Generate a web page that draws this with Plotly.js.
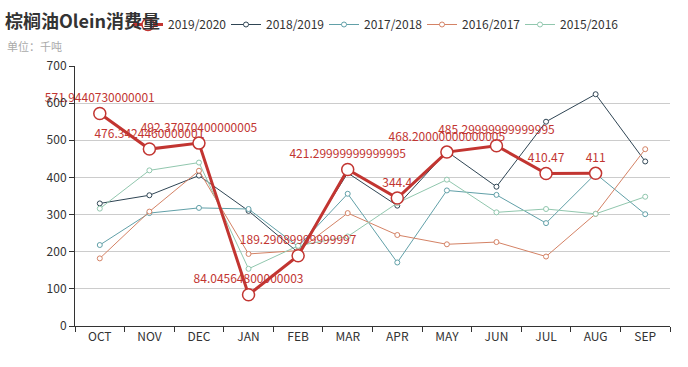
<!DOCTYPE html>
<html>
<head>
<meta charset="utf-8">
<script src="https://cdn.plot.ly/plotly-3.0.1.min.js"></script>
<style>html,body{margin:0;padding:0;background:#fff;}#chart{width:688px;height:367px;}</style>
</head>
<body>
<div id="chart"></div>
<script>
const months = ['OCT','NOV','DEC','JAN','FEB','MAR','APR','MAY','JUN','JUL','AUG','SEP'];
const seriesNames = ['2019/2020','2018/2019','2017/2018','2016/2017','2015/2016'];
const s2019 = [571.9440730000001, 476.3424460000001, 492.37070400000005, 84.04564800000003, 189.29089999999997, 421.29999999999995, 344.4, 468.20000000000005, 485.29999999999995, 410.47, 411, null];
const s2018 = [330, 352, 405, 310, 198, 412, 324, 470, 375, 550, 624, 443];
const s2017 = [218, 304, 318, 315, 214, 356, 171, 365, 353, 277, 410, 301];
const s2016 = [182, 308, 418, 194, 203, 304, 245, 220, 226, 187, 302, 476];
const s2015 = [316, 419, 440, 154, 216, 241, 331, 394, 306, 315, 302, 348];
const colors = ['#c23531','#2f4554','#61a0a8','#d48265','#91c7ae'];

const allData = [s2019, s2018, s2017, s2016, s2015];
const font = '"Noto Sans CJK SC", "Noto Sans", sans-serif';

const traces = allData.map((vals, i) => {
  const main = i === 0;
  const t = {
    type: 'scatter',
    mode: main ? 'lines+markers+text' : 'lines+markers',
    name: seriesNames[i],
    x: months,
    y: vals,
    line: {color: colors[i], width: main ? 3 : 1},
    marker: {symbol: 'circle', size: main ? 12 : 5, color: '#fff', line: {color: colors[i], width: main ? 1.5 : 1}},
    connectgaps: false,
    cliponaxis: false,
    hoverinfo: 'x+y+name',
    legendrank: i + 1
  };
  if (main) {
    t.text = vals.map(v => v === null ? '' : String(v));
    t.textposition = 'top center';
    t.textfont = {color: colors[0], size: 12, family: font};
  }
  return t;
});
// draw main series on top
const ordered = traces.slice(1).concat([traces[0]]);

const layout = {
  width: 688, height: 367,
  margin: {l: 75, r: 18, t: 66, b: 41},
  paper_bgcolor: '#fff', plot_bgcolor: '#fff',
  font: {family: font, color: '#333', size: 12},
  title: {
    text: '<b>棕榈油Olein消费量</b>',
    font: {size: 18, color: '#333', family: font},
    xref: 'container', yref: 'container',
    x: 5/688, xanchor: 'left', y: 1 - 22/367, yanchor: 'middle'
  },
  annotations: [{
    text: '单位：千吨', xref: 'paper', yref: 'paper', showarrow: false,
    x: (5-75)/595, xanchor: 'left', y: 1 + (66-46)/260, yanchor: 'middle',
    font: {size: 11, color: '#aaa', family: font}
  }],
  showlegend: true,
  legend: {
    orientation: 'h', xref: 'container', yref: 'container',
    x: 128/688, xanchor: 'left', y: 1 - 10/367, yanchor: 'top',
    font: {size: 12, color: '#333', family: font},
    entrywidth: 53, entrywidthmode: 'pixels',
    traceorder: 'normal', bgcolor: 'rgba(0,0,0,0)'
  },
  xaxis: {
    type: 'category', categoryorder: 'array', categoryarray: months,
    range: [-0.5, 11.5], showgrid: false, zeroline: false,
    showline: true, linecolor: '#333', linewidth: 1,
    ticks: 'outside', tickson: 'boundaries', ticklen: 5, tickcolor: '#333',
    tickfont: {size: 12, color: '#333', family: font}, fixedrange: true
  },
  yaxis: {
    range: [0, 700], dtick: 100, showgrid: true, gridcolor: '#ccc', gridwidth: 1,
    zeroline: false, showline: true, linecolor: '#333', linewidth: 1,
    ticks: 'outside', ticklen: 5, tickcolor: '#333',
    tickfont: {size: 12, color: '#333', family: font}, fixedrange: true
  }
};

Plotly.newPlot('chart', ordered, layout, {displayModeBar: false, staticPlot: true});
</script>
</body>
</html>
